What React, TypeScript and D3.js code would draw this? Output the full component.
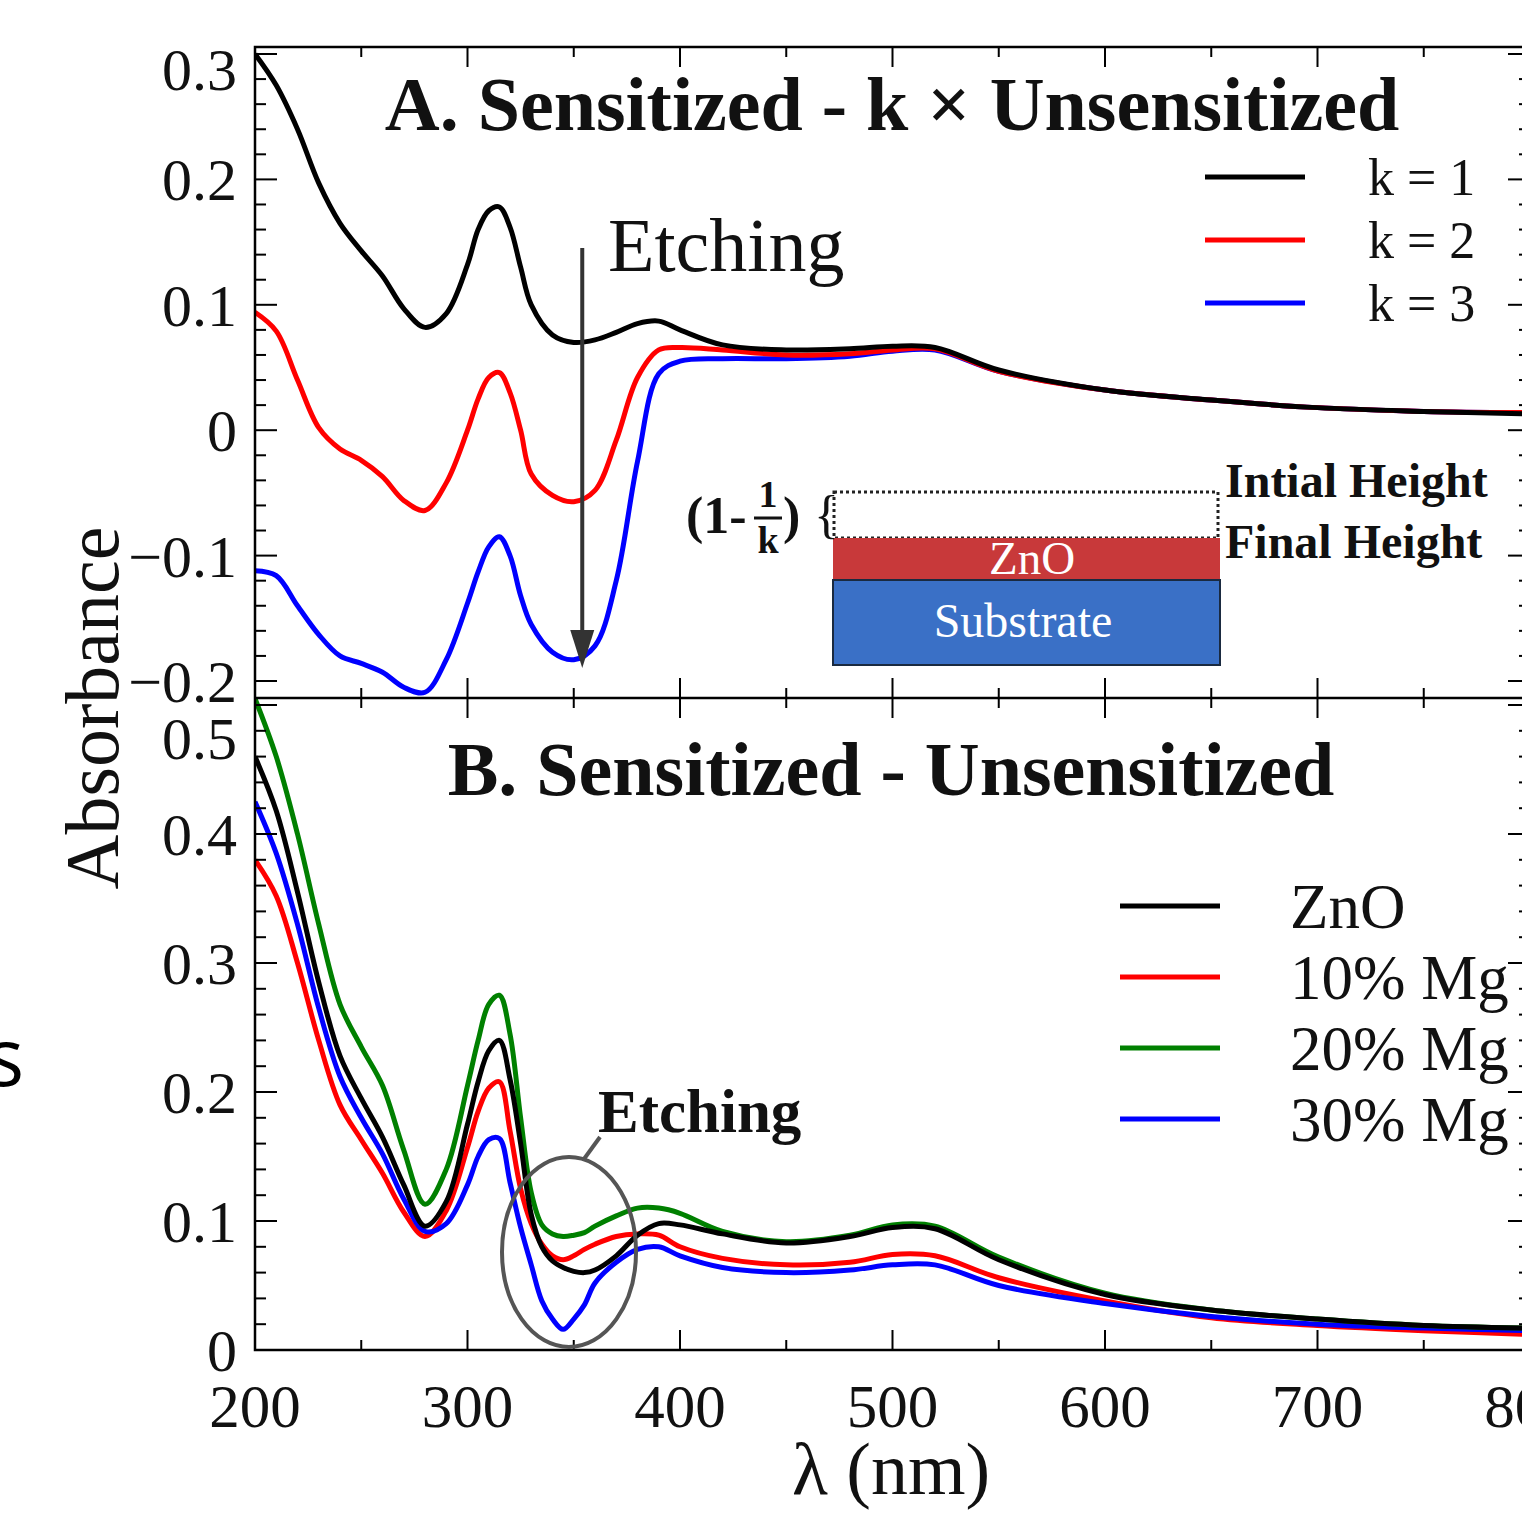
import React from "react";
import * as d3 from "d3";

// ---------- DATA ----------
const waveA = [200,210,220,230,240,250,260,270,280,290,300,305,310,315,320,325,330,340,350,360,370,380,390,400,420,450,480,500,520,550,600,650,700,750,800];
const k1 = [0.300,0.275,0.240,0.197,0.165,0.143,0.123,0.097,0.082,0.093,0.132,0.160,0.175,0.178,0.162,0.130,0.100,0.076,0.070,0.072,0.078,0.085,0.087,0.080,0.068,0.064,0.065,0.067,0.066,0.048,0.032,0.024,0.018,0.015,0.013];
const k2 = [0.094,0.079,0.040,0.002,-0.015,-0.024,-0.037,-0.056,-0.064,-0.042,0.000,0.025,0.042,0.046,0.030,0.000,-0.035,-0.052,-0.057,-0.048,-0.008,0.042,0.064,0.066,0.064,0.060,0.061,0.064,0.065,0.047,0.032,0.024,0.018,0.015,0.014];
const k3 = [-0.112,-0.116,-0.140,-0.163,-0.180,-0.186,-0.193,-0.205,-0.209,-0.183,-0.138,-0.113,-0.093,-0.085,-0.100,-0.132,-0.155,-0.177,-0.183,-0.172,-0.120,-0.025,0.045,0.055,0.057,0.057,0.059,0.063,0.064,0.047,0.032,0.024,0.018,0.015,0.014];

const waveB = [200,210,220,230,240,250,260,270,280,290,300,305,310,315,320,325,330,335,340,345,350,355,360,370,380,390,400,420,450,480,500,520,550,600,650,700,750,800];
const znO = [0.460,0.418,0.355,0.285,0.228,0.195,0.165,0.128,0.096,0.115,0.175,0.208,0.232,0.240,0.210,0.160,0.105,0.080,0.069,0.064,0.061,0.060,0.062,0.073,0.089,0.098,0.097,0.090,0.083,0.088,0.095,0.094,0.070,0.043,0.031,0.024,0.019,0.017];
const mg10 = [0.380,0.352,0.300,0.240,0.190,0.163,0.137,0.107,0.088,0.108,0.157,0.185,0.203,0.208,0.170,0.125,0.098,0.082,0.073,0.070,0.073,0.078,0.082,0.088,0.090,0.089,0.080,0.071,0.066,0.068,0.074,0.073,0.056,0.038,0.025,0.019,0.015,0.012];
const mg20 = [0.505,0.460,0.400,0.330,0.268,0.235,0.205,0.155,0.113,0.140,0.205,0.240,0.268,0.275,0.245,0.180,0.122,0.097,0.090,0.088,0.089,0.091,0.096,0.104,0.110,0.110,0.106,0.092,0.084,0.089,0.097,0.096,0.072,0.044,0.031,0.024,0.019,0.017];
const mg30 = [0.425,0.385,0.330,0.265,0.212,0.180,0.152,0.117,0.092,0.098,0.128,0.150,0.163,0.164,0.130,0.095,0.066,0.038,0.024,0.016,0.024,0.035,0.052,0.068,0.078,0.080,0.073,0.064,0.060,0.062,0.066,0.066,0.050,0.036,0.026,0.020,0.017,0.015];

const seriesA = [
  { name: "k = 3", values: k3, color: "#0000ff" },
  { name: "k = 2", values: k2, color: "#ff0000" },
  { name: "k = 1", values: k1, color: "#000000" },
];
const legendA = ["k = 1", "k = 2", "k = 3"];
const legendAColors = ["#000000", "#ff0000", "#0000ff"];

const seriesB = [
  { name: "10% Mg", values: mg10, color: "#ff0000" },
  { name: "30% Mg", values: mg30, color: "#0000ff" },
  { name: "20% Mg", values: mg20, color: "#008000" },
  { name: "ZnO", values: znO, color: "#000000" },
];
const legendB = ["ZnO", "10% Mg", "20% Mg", "30% Mg"];
const legendBColors = ["#000000", "#ff0000", "#008000", "#0000ff"];

const xTicks = [200, 300, 400, 500, 600, 700, 800];
const yTicksA = [-0.2, -0.1, 0, 0.1, 0.2, 0.3];
const yTicksB = [0, 0.1, 0.2, 0.3, 0.4, 0.5];

// ---------- LAYOUT ----------
const W = 1522, H = 1514;
const L = 255, R = 1530;
const topA = 47, mid = 698, botB = 1350;
const SERIF = "'Liberation Serif', 'Times New Roman', serif";

export default function App() {
  const x = d3.scaleLinear().domain([200, 800]).range([L, R]);
  const yA = d3.scaleLinear().domain([-0.2, 0.3]).range([681, 54]);
  const yB = d3.scaleLinear().domain([0, 0.5]).range([botB, 705]);

  const curve = d3.curveCatmullRom.alpha(0.5);
  const lineA = d3.line<number>().x((_, i) => x(waveA[i])).y((d) => yA(d)).curve(curve);
  const lineB = d3.line<number>().x((_, i) => x(waveB[i])).y((d) => yB(d)).curve(curve);

  const fmt = (v: number) => {
    const s = Math.abs(v) < 1e-9 ? "0" : d3.format(".1f")(v);
    return s.replace("-", "\u2212");
  };

  const xMinor = d3.range(200, 801, 50);
  const yMinorA = d3.range(-0.2, 0.3001, 0.02);
  const yMinorB = d3.range(0, 0.5001, 0.02);

  const isMajorX = (v: number) => Math.abs(v % 100) < 1e-6;
  const isMajorY = (v: number) => Math.abs(Math.round(v * 10) - v * 10) < 1e-6;

  const tickStroke = { stroke: "#000", strokeWidth: 2 };

  const panelTicks = (y: any, minor: number[], top: number, bottom: number, key: string) => (
    <g key={key}>
      {xMinor.map((v) => {
        const len = isMajorX(v) ? 20 : 10;
        return (
          <g key={"x" + v}>
            <line x1={x(v)} x2={x(v)} y1={top} y2={top + len} {...tickStroke} />
            <line x1={x(v)} x2={x(v)} y1={bottom} y2={bottom - len} {...tickStroke} />
          </g>
        );
      })}
      {minor.map((v) => {
        const len = isMajorY(v) ? 22 : 11;
        return (
          <g key={"y" + v.toFixed(3)}>
            <line x1={L} x2={L + len} y1={y(v)} y2={y(v)} {...tickStroke} />
            <line x1={R} x2={R - len} y1={y(v)} y2={y(v)} {...tickStroke} />
          </g>
        );
      })}
    </g>
  );

  const ax = x(354);

  return (
    <svg width={W} height={H} style={{ position: "absolute", left: 0, top: 0, background: "#fff" }}>
      <defs>
        <clipPath id="clipA"><rect x={L} y={topA} width={R - L} height={mid - topA} /></clipPath>
        <clipPath id="clipB"><rect x={L} y={mid} width={R - L} height={botB - mid} /></clipPath>
      </defs>

      {/* stray cropped glyph at the left edge */}
      <text x={-14} y={1086} fontFamily="'Open Sans', sans-serif" fontSize={80} fill="#000">s</text>

      {/* Panel A curves */}
      <g clipPath="url(#clipA)">
        {seriesA.map((s) => (
          <path key={s.name} d={lineA(s.values) || ""} fill="none" stroke={s.color} strokeWidth={5} strokeLinejoin="round" />
        ))}
      </g>
      {/* Panel B curves */}
      <g clipPath="url(#clipB)">
        {seriesB.map((s) => (
          <path key={s.name} d={lineB(s.values) || ""} fill="none" stroke={s.color} strokeWidth={5} strokeLinejoin="round" />
        ))}
      </g>

      {/* Frames */}
      <rect x={L} y={topA} width={R - L} height={botB - topA} fill="none" stroke="#000" strokeWidth={2.5} />
      <line x1={L} x2={R} y1={mid} y2={mid} stroke="#000" strokeWidth={2.5} />
      {panelTicks(yA, yMinorA, topA, mid, "tA")}
      {panelTicks(yB, yMinorB, mid, botB, "tB")}

      {/* Y tick labels */}
      {yTicksA.map((v) => (
        <text key={"la" + v} x={237} y={yA(v) + (v > 0.25 ? 15 : 0)} dy="0.35em" textAnchor="end" fontFamily={SERIF} fontSize={60} fill="#111">{fmt(v)}</text>
      ))}
      {yTicksB.map((v) => (
        <text key={"lb" + v} x={237} y={yB(v) + (v > 0.45 ? 33 : 0)} dy="0.35em" textAnchor="end" fontFamily={SERIF} fontSize={60} fill="#111">{fmt(v)}</text>
      ))}
      {/* X tick labels */}
      {xTicks.map((v) => (
        <text key={"lx" + v} x={x(v)} y={1427} textAnchor="middle" fontFamily={SERIF} fontSize={61} fill="#111">{v}</text>
      ))}

      {/* Axis labels */}
      <text transform="translate(118,708) rotate(-90)" textAnchor="middle" fontFamily={SERIF} fontSize={76} fill="#111">Absorbance</text>
      <text x={891} y={1494} textAnchor="middle" fontFamily={SERIF} fontSize={74} fill="#111">λ (nm)</text>

      {/* Titles */}
      <text x={892} y={130} textAnchor="middle" fontFamily={SERIF} fontWeight="bold" fontSize={76} fill="#111">A. Sensitized - k × Unsensitized</text>
      <text x={891} y={795} textAnchor="middle" fontFamily={SERIF} fontWeight="bold" fontSize={76} fill="#111">B. Sensitized - Unsensitized</text>

      {/* Legend A */}
      {legendA.map((n, i) => (
        <g key={n}>
          <line x1={1205} x2={1305} y1={177 + i * 63} y2={177 + i * 63} stroke={legendAColors[i]} strokeWidth={5} />
          <text x={1368} y={195 + i * 63} fontFamily={SERIF} fontSize={52} fill="#111">{n}</text>
        </g>
      ))}
      {/* Legend B */}
      {legendB.map((n, i) => (
        <g key={n}>
          <line x1={1120} x2={1220} y1={906 + i * 71} y2={906 + i * 71} stroke={legendBColors[i]} strokeWidth={5} />
          <text x={1290} y={928 + i * 71} fontFamily={SERIF} fontSize={63} fill="#111">{n}</text>
        </g>
      ))}

      {/* Etching arrow A */}
      <line x1={ax} x2={ax} y1={248} y2={634} stroke="#333" strokeWidth={4} />
      <path d={`M${ax},668 L${ax - 12},630 L${ax + 12},630 Z`} fill="#333" />
      <text x={608} y={271} fontFamily={SERIF} fontSize={76} fill="#111">Etching</text>

      {/* Etching ellipse B */}
      <ellipse cx={569} cy={1252} rx={67} ry={95} fill="none" stroke="#555" strokeWidth={4} />
      <line x1={584} x2={600} y1={1159} y2={1137} stroke="#555" strokeWidth={4} />
      <text x={598} y={1132} fontFamily={SERIF} fontWeight="bold" fontSize={61} fill="#111">Etching</text>

      {/* Inset diagram */}
      <rect x={834} y={492} width={384} height={46} fill="none" stroke="#222" strokeWidth={3} strokeDasharray="3,3" />
      <rect x={833} y={538} width={387} height={42} fill="#c8393a" />
      <rect x={833} y={580} width={387} height={85} fill="#3a70c6" stroke="#1a2a40" strokeWidth={2} />
      <text x={1032} y={574} textAnchor="middle" fontFamily={SERIF} fontSize={47} fill="#fff">ZnO</text>
      <text x={1023} y={637} textAnchor="middle" fontFamily={SERIF} fontSize={48} fill="#fff">Substrate</text>
      <text x={1225} y={497} fontFamily={SERIF} fontWeight="bold" fontSize={48} fill="#111">Intial Height</text>
      <text x={1225} y={558} fontFamily={SERIF} fontWeight="bold" fontSize={48} fill="#111">Final Height</text>
      <text x={686} y={533} fontFamily={SERIF} fontWeight="bold" fontSize={52} fill="#111">(1-</text>
      <text x={768} y={507} textAnchor="middle" fontFamily={SERIF} fontWeight="bold" fontSize={38} fill="#111">1</text>
      <line x1={754} x2={782} y1={518} y2={518} stroke="#111" strokeWidth={3} />
      <text x={768} y={553} textAnchor="middle" fontFamily={SERIF} fontWeight="bold" fontSize={38} fill="#111">k</text>
      <text x={783} y={533} fontFamily={SERIF} fontWeight="bold" fontSize={52} fill="#111">)</text>
      <text x={814} y={532} fontFamily={SERIF} fontSize={52} fill="#111">{"{"}</text>
    </svg>
  );
}
